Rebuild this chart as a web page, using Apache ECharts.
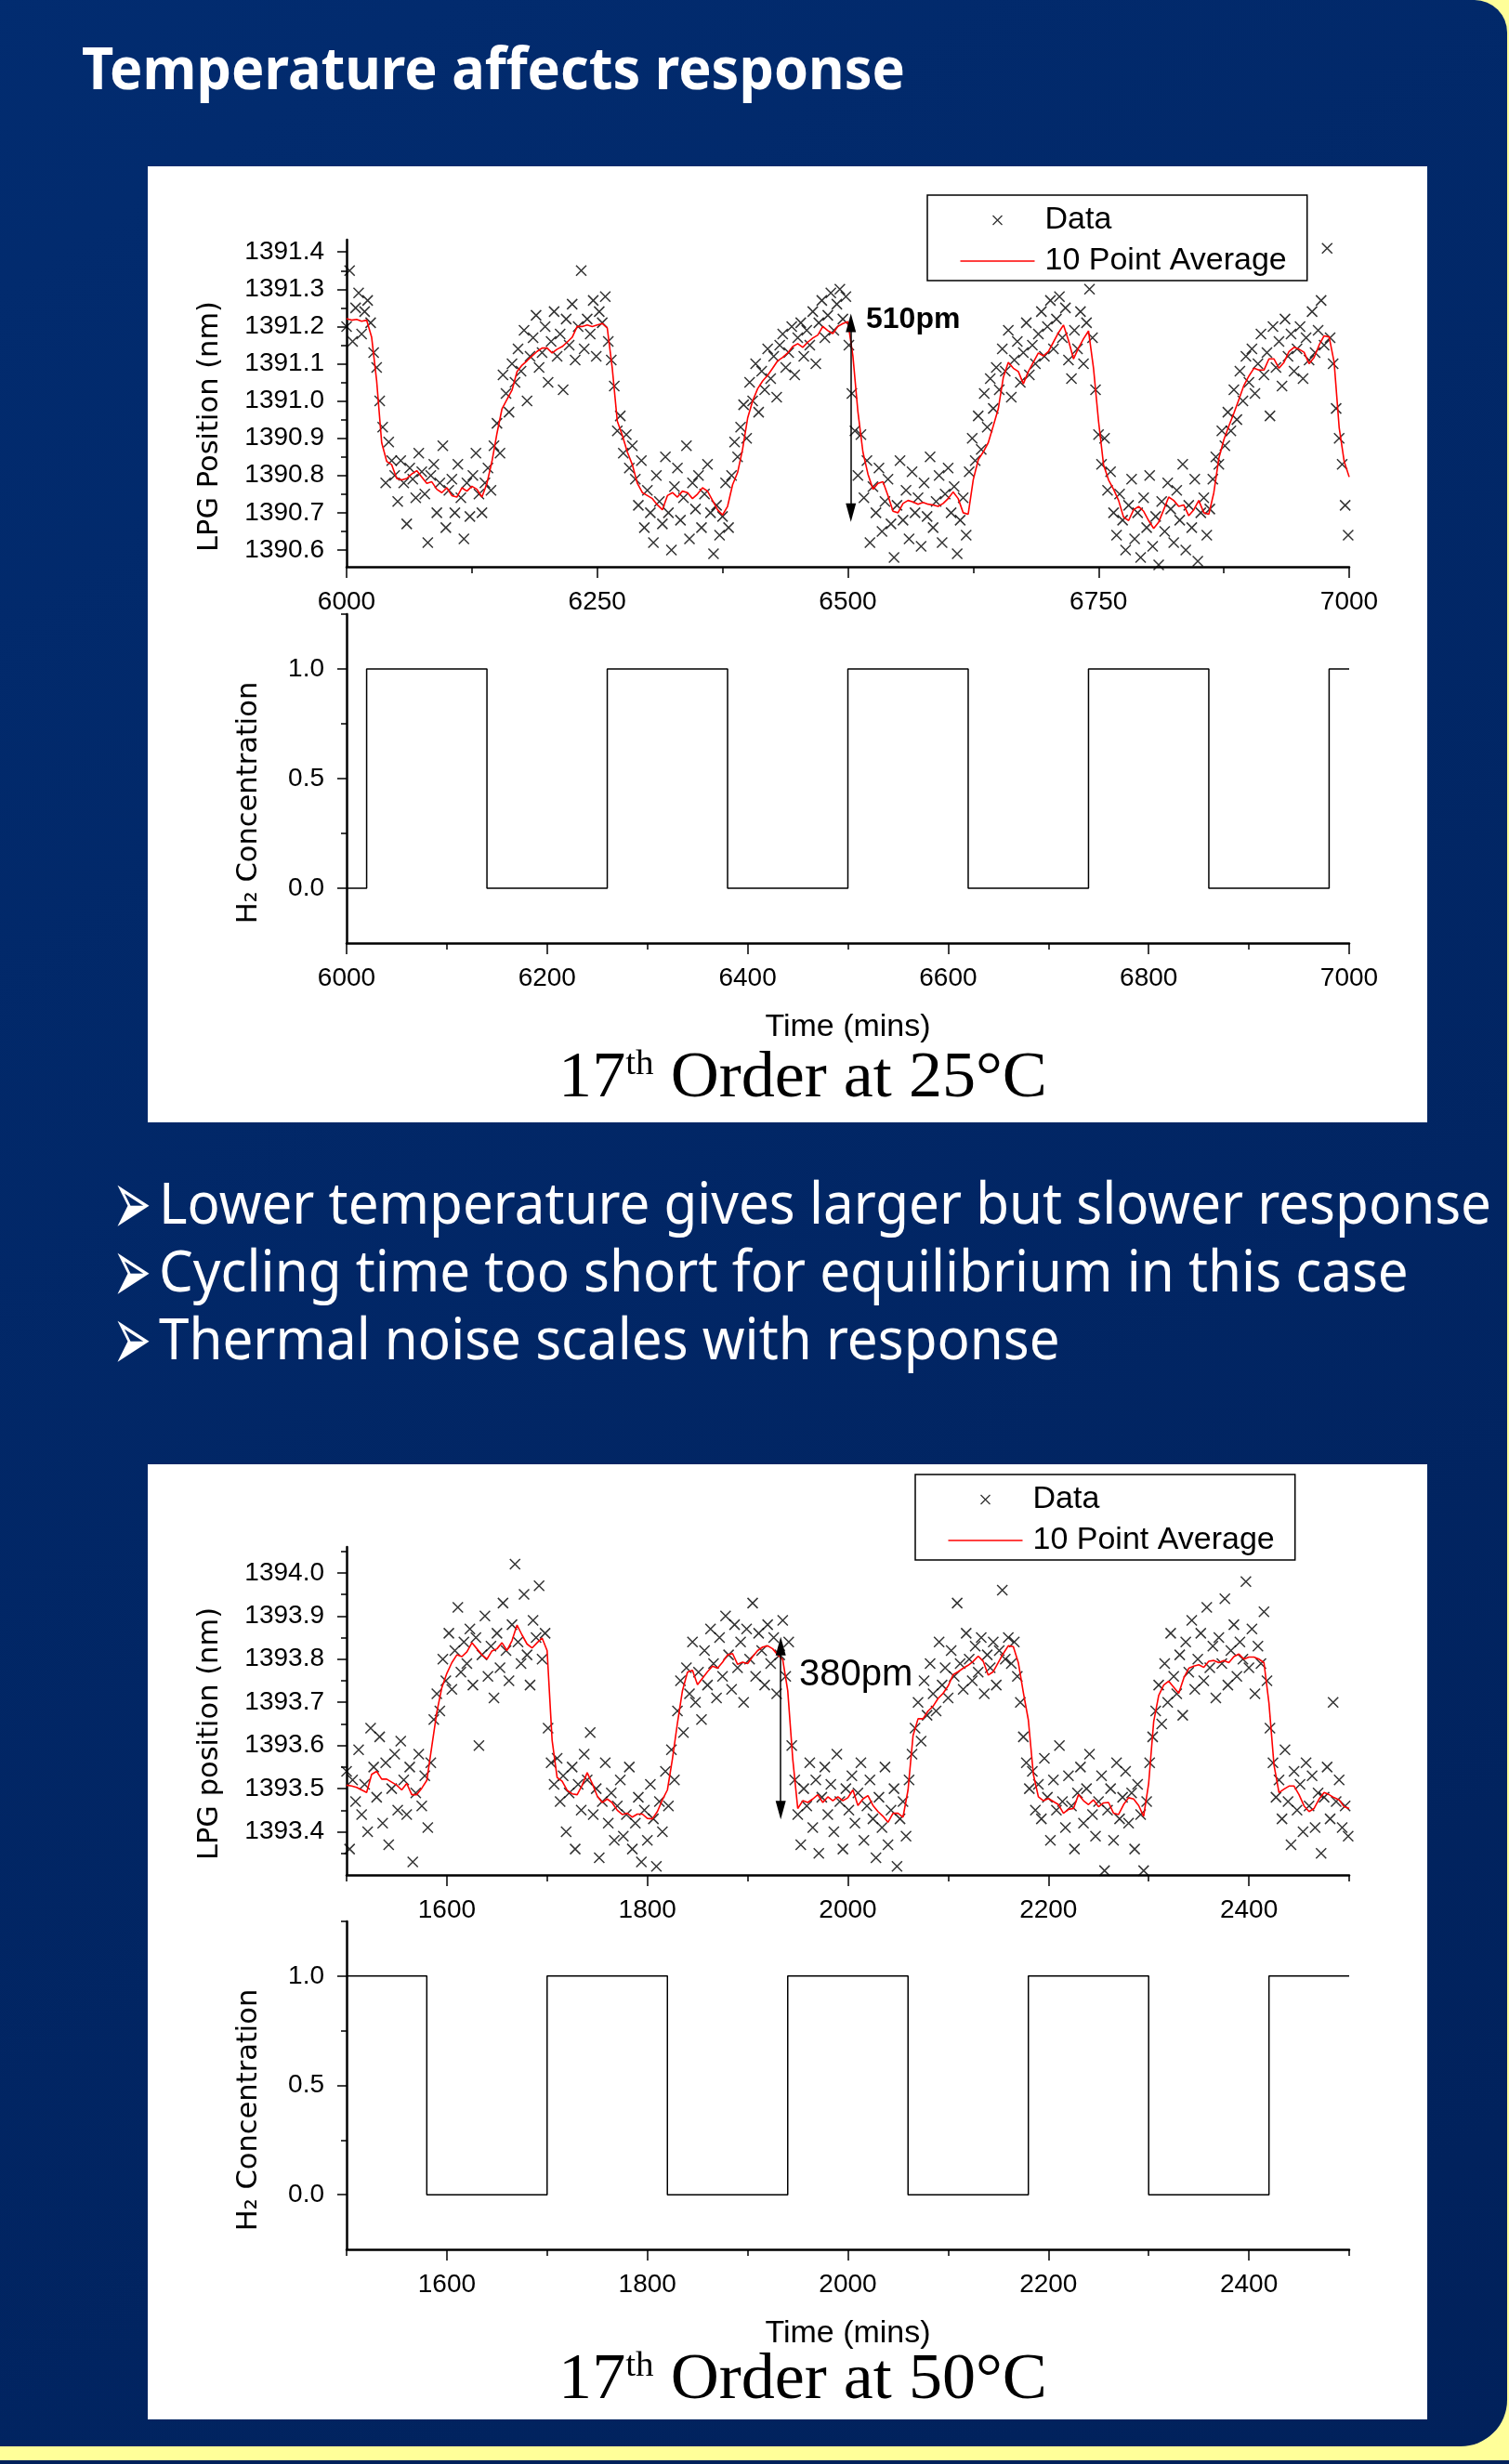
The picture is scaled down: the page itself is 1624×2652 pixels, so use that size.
<!DOCTYPE html>
<html>
<head>
<meta charset="utf-8">
<title>Temperature affects response</title>
<script src="https://cdn.jsdelivr.net/npm/echarts@6/dist/echarts.min.js"></script>
<style>
  html, body { margin: 0; padding: 0; background: #FFFF99; }
  #slide { width: 1624px; height: 2652px; }
</style>
</head>
<body>
<div id="slide"></div>
<script>
// ---------- 17th order LPG at 25 °C ----------
const lpg25Start = 6000, lpg25Step = 3;           // minutes
const lpg25 = [
  1391.20,1391.35,1391.16,1391.25,1391.29,1391.18,1391.24,1391.27,1391.21,1391.13,
  1391.09,1391.00,1390.93,1390.78,1390.89,1390.84,1390.80,1390.73,1390.84,1390.78,
  1390.67,1390.82,1390.79,1390.74,1390.86,1390.81,1390.75,1390.62,1390.80,1390.83,
  1390.70,1390.78,1390.88,1390.66,1390.76,1390.79,1390.70,1390.83,1390.74,1390.63,
  1390.78,1390.69,1390.80,1390.86,1390.75,1390.70,1390.78,1390.82,1390.76,1390.88,
  1390.94,1390.86,1391.07,1391.02,1390.97,1391.10,1391.05,1391.14,1391.08,1391.19,
  1391.00,1391.12,1391.17,1391.23,1391.09,1391.13,1391.20,1391.05,1391.16,1391.24,
  1391.12,1391.18,1391.03,1391.22,1391.15,1391.26,1391.11,1391.20,1391.35,1391.14,
  1391.22,1391.18,1391.27,1391.12,1391.24,1391.21,1391.28,1391.16,1391.11,1391.04,
  1390.92,1390.96,1390.86,1390.91,1390.82,1390.88,1390.79,1390.72,1390.84,1390.66,
  1390.76,1390.70,1390.62,1390.80,1390.73,1390.67,1390.85,1390.70,1390.60,1390.77,
  1390.82,1390.68,1390.74,1390.88,1390.63,1390.78,1390.71,1390.80,1390.66,1390.75,
  1390.83,1390.70,1390.59,1390.72,1390.64,1390.69,1390.78,1390.66,1390.80,1390.89,
  1390.85,1390.93,1390.99,1390.90,1391.05,1391.00,1391.10,1390.97,1391.08,1391.03,
  1391.14,1391.06,1391.12,1391.01,1391.15,1391.18,1391.09,1391.13,1391.20,1391.07,
  1391.17,1391.21,1391.12,1391.19,1391.15,1391.24,1391.10,1391.21,1391.27,1391.17,
  1391.23,1391.29,1391.19,1391.26,1391.30,1391.22,1391.28,1391.15,1391.02,1390.92,
  1390.80,1390.91,1390.74,1390.84,1390.62,1390.77,1390.70,1390.82,1390.65,1390.73,
  1390.79,1390.67,1390.58,1390.72,1390.84,1390.68,1390.76,1390.63,1390.81,1390.70,
  1390.74,1390.61,1390.78,1390.69,1390.85,1390.66,1390.73,1390.80,1390.62,1390.75,
  1390.82,1390.70,1390.77,1390.59,1390.68,1390.74,1390.64,1390.81,1390.90,1390.84,
  1390.96,1390.87,1391.02,1390.93,1391.06,1390.98,1391.09,1391.03,1391.14,1391.08,
  1391.19,1391.01,1391.11,1391.16,1391.05,1391.13,1391.21,1391.07,1391.15,1391.10,
  1391.18,1391.24,1391.12,1391.20,1391.27,1391.14,1391.22,1391.28,1391.17,1391.25,
  1391.11,1391.06,1391.19,1391.14,1391.24,1391.10,1391.21,1391.30,1391.17,1391.03,
  1390.91,1390.83,1390.90,1390.76,1390.81,1390.70,1390.64,1390.75,1390.68,1390.60,
  1390.72,1390.79,1390.63,1390.70,1390.58,1390.74,1390.66,1390.80,1390.61,1390.69,
  1390.56,1390.73,1390.65,1390.78,1390.71,1390.62,1390.76,1390.68,1390.83,1390.60,
  1390.72,1390.66,1390.79,1390.57,1390.70,1390.74,1390.64,1390.71,1390.79,1390.85,
  1390.83,1390.92,1390.88,1390.97,1390.92,1391.03,1390.95,1391.08,1391.00,1391.12,
  1391.05,1391.14,1391.02,1391.10,1391.18,1391.07,1391.13,1390.96,1391.20,1391.09,
  1391.16,1391.04,1391.22,1391.12,1391.18,1391.08,1391.14,1391.20,1391.06,1391.17,
  1391.11,1391.24,1391.13,1391.19,1391.27,1391.15,1391.41,1391.17,1391.10,1390.98,
  1390.90,1390.83,1390.72,1390.64
];
const avg25Start = 6000, avg25Step = 5;
const avg25 = [
  1391.221,1391.217,1391.219,1391.214,1391.217,1391.171,1391.054,1390.888,1390.838,1390.829,
  1390.792,1390.788,1390.792,1390.804,1390.813,1390.796,1390.779,1390.783,1390.763,1390.754,
  1390.767,1390.746,1390.742,1390.767,1390.758,1390.771,1390.763,1390.742,1390.779,1390.838,
  1390.913,1390.979,1391.004,1391.029,1391.079,1391.096,1391.108,1391.121,1391.133,1391.142,
  1391.142,1391.129,1391.139,1391.146,1391.158,1391.171,1391.200,1391.200,1391.204,1391.200,
  1391.204,1391.208,1391.196,1391.088,1390.946,1390.908,1390.863,1390.829,1390.779,1390.754,
  1390.746,1390.738,1390.721,1390.708,1390.746,1390.754,1390.742,1390.758,1390.754,1390.738,
  1390.750,1390.767,1390.758,1390.733,1390.708,1390.694,1390.717,1390.775,1390.808,1390.871,
  1390.954,1391.000,1391.033,1391.054,1391.069,1391.088,1391.108,1391.117,1391.129,1391.146,
  1391.154,1391.144,1391.158,1391.169,1391.177,1391.200,1391.189,1391.181,1391.200,1391.208,
  1391.213,1391.121,1390.971,1390.863,1390.804,1390.763,1390.779,1390.783,1390.746,1390.704,
  1390.700,1390.725,1390.733,1390.729,1390.723,1390.728,1390.723,1390.721,1390.717,1390.725,
  1390.738,1390.756,1390.738,1390.700,1390.696,1390.788,1390.842,1390.863,1390.888,1390.933,
  1390.979,1391.063,1391.104,1391.088,1391.079,1391.046,1391.079,1391.104,1391.129,1391.121,
  1391.133,1391.158,1391.183,1391.204,1391.163,1391.113,1391.142,1391.167,1391.188,1391.088,
  1390.946,1390.829,1390.788,1390.763,1390.733,1390.688,1390.679,1390.708,1390.717,1390.704,
  1390.679,1390.658,1390.675,1390.708,1390.742,1390.733,1390.717,1390.721,1390.692,1390.708,
  1390.733,1390.700,1390.696,1390.754,1390.846,1390.896,1390.933,1390.967,1391.004,1391.042,
  1391.067,1391.088,1391.083,1391.083,1391.113,1391.113,1391.088,1391.104,1391.133,1391.144,
  1391.139,1391.131,1391.100,1391.117,1391.150,1391.175,1391.172,1391.104,1390.929,1390.838,
  1390.796
];
// H2 switching schedule (time, concentration after the switch)
const h2Time25  = [6000, 6020, 6140, 6260, 6380, 6500, 6620, 6740, 6860, 6980, 7000];
const h2Level25 = [0,    1,    0,    1,    0,    1,    0,    1,    0,    1,    1];
const shift25 = { time: 6503, top: 1391.21, bottom: 1390.70, label: '510pm' };

// ---------- 17th order LPG at 50 °C ----------
const lpg50Start = 1500, lpg50Step = 3;
const lpg50 = [
  1393.54,1393.36,1393.52,1393.47,1393.59,1393.44,1393.51,1393.40,1393.64,1393.55,
  1393.48,1393.62,1393.42,1393.56,1393.37,1393.50,1393.58,1393.45,1393.61,1393.52,
  1393.44,1393.55,1393.33,1393.49,1393.58,1393.46,1393.53,1393.41,1393.56,1393.66,
  1393.72,1393.68,1393.80,1393.75,1393.86,1393.73,1393.82,1393.92,1393.77,1393.84,
  1393.79,1393.87,1393.74,1393.85,1393.60,1393.81,1393.90,1393.76,1393.83,1393.71,
  1393.86,1393.78,1393.93,1393.82,1393.75,1393.88,1394.02,1393.84,1393.79,1393.95,
  1393.81,1393.74,1393.89,1393.85,1393.97,1393.80,1393.86,1393.64,1393.56,1393.51,
  1393.57,1393.47,1393.53,1393.40,1393.49,1393.55,1393.36,1393.51,1393.45,1393.58,
  1393.52,1393.63,1393.44,1393.50,1393.34,1393.47,1393.56,1393.42,1393.49,1393.38,
  1393.46,1393.52,1393.39,1393.44,1393.55,1393.36,1393.42,1393.48,1393.33,1393.45,
  1393.38,1393.51,1393.43,1393.32,1393.47,1393.40,1393.54,1393.46,1393.59,1393.52,
  1393.68,1393.75,1393.63,1393.78,1393.72,1393.84,1393.70,1393.77,1393.66,1393.82,
  1393.74,1393.87,1393.79,1393.71,1393.85,1393.76,1393.90,1393.81,1393.73,1393.88,
  1393.78,1393.84,1393.70,1393.87,1393.80,1393.93,1393.76,1393.86,1393.82,1393.74,
  1393.88,1393.79,1393.85,1393.72,1393.81,1393.89,1393.76,1393.84,1393.60,1393.52,
  1393.44,1393.37,1393.50,1393.46,1393.56,1393.41,1393.52,1393.35,1393.48,1393.55,
  1393.44,1393.51,1393.40,1393.58,1393.47,1393.36,1393.50,1393.45,1393.53,1393.42,
  1393.49,1393.56,1393.38,1393.46,1393.52,1393.43,1393.34,1393.48,1393.41,1393.55,
  1393.37,1393.45,1393.50,1393.32,1393.43,1393.47,1393.39,1393.52,1393.58,1393.64,
  1393.70,1393.61,1393.75,1393.67,1393.79,1393.72,1393.68,1393.84,1393.74,1393.78,
  1393.71,1393.82,1393.76,1393.93,1393.79,1393.73,1393.86,1393.80,1393.75,1393.83,
  1393.77,1393.85,1393.72,1393.81,1393.78,1393.84,1393.74,1393.82,1393.96,1393.80,
  1393.85,1393.79,1393.84,1393.76,1393.70,1393.62,1393.56,1393.50,1393.54,1393.45,
  1393.51,1393.43,1393.57,1393.48,1393.38,1393.52,1393.45,1393.60,1393.47,1393.41,
  1393.53,1393.46,1393.36,1393.49,1393.55,1393.42,1393.50,1393.58,1393.44,1393.39,
  1393.47,1393.53,1393.31,1393.45,1393.50,1393.38,1393.56,1393.43,1393.48,1393.54,
  1393.42,1393.49,1393.36,1393.51,1393.44,1393.31,1393.47,1393.56,1393.62,1393.68,
  1393.74,1393.65,1393.79,1393.70,1393.86,1393.76,1393.72,1393.81,1393.67,1393.84,
  1393.77,1393.89,1393.73,1393.80,1393.86,1393.75,1393.92,1393.78,1393.83,1393.71,
  1393.85,1393.79,1393.94,1393.74,1393.82,1393.88,1393.76,1393.84,1393.80,1393.98,
  1393.78,1393.87,1393.72,1393.83,1393.79,1393.91,1393.75,1393.64,1393.56,1393.48,
  1393.52,1393.43,1393.59,1393.47,1393.37,1393.54,1393.45,1393.51,1393.40,1393.56,
  1393.46,1393.53,1393.41,1393.49,1393.35,1393.48,1393.55,1393.43,1393.70,1393.47,
  1393.52,1393.41,1393.46,1393.39
];
const avg50Start = 1500, avg50Step = 5;
const avg50 = [
  1393.508,1393.506,1393.503,1393.497,1393.491,1393.533,1393.540,1393.522,1393.522,1393.515,
  1393.508,1393.497,1393.512,1393.486,1393.486,1393.501,1393.519,1393.598,1393.677,1393.734,
  1393.767,1393.792,1393.810,1393.806,1393.817,1393.838,1393.824,1393.810,1393.800,1393.819,
  1393.824,1393.838,1393.820,1393.843,1393.879,1393.856,1393.835,1393.826,1393.838,1393.849,
  1393.820,1393.612,1393.526,1393.517,1393.496,1393.488,1393.486,1393.508,1393.537,1393.512,
  1393.483,1393.468,1393.476,1393.467,1393.450,1393.440,1393.443,1393.434,1393.441,1393.441,
  1393.431,1393.430,1393.447,1393.474,1393.497,1393.569,1393.652,1393.727,1393.770,1393.774,
  1393.741,1393.756,1393.771,1393.784,1393.779,1393.793,1393.810,1393.813,1393.788,1393.793,
  1393.790,1393.806,1393.820,1393.828,1393.831,1393.824,1393.810,1393.799,1393.727,1393.569,
  1393.454,1393.472,1393.468,1393.476,1393.486,1393.468,1393.481,1393.472,1393.481,1393.472,
  1393.479,1393.497,1393.461,1393.476,1393.484,1393.461,1393.447,1393.436,1393.422,1393.443,
  1393.443,1393.434,1393.497,1393.623,1393.662,1393.662,1393.680,1393.691,1393.709,1393.721,
  1393.738,1393.764,1393.771,1393.779,1393.786,1393.795,1393.807,1393.795,1393.763,1393.771,
  1393.792,1393.813,1393.831,1393.829,1393.792,1393.723,1393.659,1393.533,1393.481,1393.472,
  1393.477,1393.470,1393.463,1393.443,1393.452,1393.454,1393.486,1393.472,1393.463,1393.474,
  1393.458,1393.467,1393.468,1393.443,1393.440,1393.463,1393.479,1393.476,1393.461,1393.436,
  1393.512,1393.655,1393.716,1393.740,1393.749,1393.735,1393.721,1393.756,1393.779,1393.784,
  1393.787,1393.781,1393.795,1393.797,1393.792,1393.797,1393.792,1393.806,1393.812,1393.800,
  1393.805,1393.805,1393.800,1393.792,1393.698,1393.555,1393.491,1393.499,1393.506,1393.506,
  1393.486,1393.460,1393.447,1393.454,1393.476,1393.491,1393.486,1393.479,1393.474,1393.458,
  1393.454
];
const h2Time50  = [1500, 1580, 1700, 1820, 1940, 2060, 2180, 2300, 2420, 2500];
const h2Level50 = [1,    0,    1,    0,    1,    0,    1,    0,    1,    1];
const shift50 = { time: 1933, top: 1393.83, bottom: 1393.45, label: '380pm' };

// ---------- tick values ----------
const timeLabels25Top    = [6000, 6250, 6500, 6750, 7000];
const timeMinor25Top     = [6125, 6375, 6625, 6875];
const timeLabels25Bottom = [6000, 6200, 6400, 6600, 6800, 7000];
const timeMinor25Bottom  = [6100, 6300, 6500, 6700, 6900];
const lpgLabels25 = [1390.6, 1390.7, 1390.8, 1390.9, 1391.0, 1391.1, 1391.2, 1391.3, 1391.4];
const lpgMinor25  = [1390.65, 1390.75, 1390.85, 1390.95, 1391.05, 1391.15, 1391.25, 1391.35];
const timeLabels50 = [1600, 1800, 2000, 2200, 2400];
const timeMinor50  = [1500, 1700, 1900, 2100, 2300, 2500];
const lpgLabels50 = [1393.4, 1393.5, 1393.6, 1393.7, 1393.8, 1393.9, 1394.0];
const lpgMinor50  = [1393.35, 1393.45, 1393.55, 1393.65, 1393.75, 1393.85, 1393.95, 1394.05];
const h2Labels = [0, 0.5, 1.0];
const h2Minor  = [0.25, 0.75, 1.25];

// ---------- slide text ----------
const slideTitle = 'Temperature affects response';
const bullets = [
  'Lower temperature gives larger but slower response',
  'Cycling time too short for equilibrium in this case',
  'Thermal noise scales with response'
];

// ---------- helpers ----------
const pairs = (start, step, vals) => vals.map((v, i) => [start + i * step, v]);
const zip = (xs, ys) => xs.map((x, i) => [x, ys[i]]);

const SANS = '"Liberation Sans", Arial, sans-serif';
const WIDE = '"DejaVu Sans", sans-serif';
const SERIF = '"Liberation Serif", "Times New Roman", serif';
const SLIDE = '"Noto Sans", "Open Sans", sans-serif';

function measure(text, font) {
  const ctx = document.createElement('canvas').getContext('2d');
  ctx.font = font;
  return ctx.measureText(text).width;
}

const grids = [
  { left: 373, top: 258,  width: 1079, height: 352 },
  { left: 373, top: 661,  width: 1079, height: 354 },
  { left: 373, top: 1665, width: 1079, height: 353 },
  { left: 373, top: 2068, width: 1079, height: 353 }
];

const tickStyle = { color: '#000', width: 1.5 };
const labelStyle = { color: '#000', fontFamily: SANS, fontSize: 28 };

function xMain(gridIndex, min, max, labels, name) {
  return {
    type: 'value', gridIndex, min, max, position: 'bottom',
    axisLine: { show: true, onZero: false, lineStyle: { color: '#000', width: 2.5 } },
    axisTick: { show: true, customValues: labels, length: 12, lineStyle: tickStyle },
    axisLabel: Object.assign({ show: true, customValues: labels, margin: 24,
      formatter: v => String(Math.round(v)) }, labelStyle),
    splitLine: { show: false },
    name: name || '', nameLocation: 'middle', nameGap: 74,
    nameTextStyle: { color: '#000', fontFamily: SANS, fontSize: 34 }
  };
}
function yMain(gridIndex, min, max, labels) {
  return {
    type: 'value', gridIndex, min, max, position: 'left',
    axisLine: { show: true, onZero: false, lineStyle: { color: '#000', width: 2.5 } },
    axisTick: { show: true, customValues: labels, length: 10, lineStyle: tickStyle },
    axisLabel: Object.assign({ show: true, customValues: labels, margin: 24,
      formatter: v => v.toFixed(1) }, labelStyle),
    splitLine: { show: false }
  };
}
function xMinor(gridIndex, min, max, vals) {
  return {
    type: 'value', gridIndex, min, max, position: 'bottom',
    axisLine: { show: false, onZero: false },
    axisTick: { show: true, customValues: vals, length: 7, lineStyle: tickStyle },
    axisLabel: { show: false }, splitLine: { show: false }
  };
}
function yMinor(gridIndex, min, max, vals) {
  return {
    type: 'value', gridIndex, min, max, position: 'left',
    axisLine: { show: false, onZero: false },
    axisTick: { show: true, customValues: vals, length: 6, lineStyle: tickStyle },
    axisLabel: { show: false }, splitLine: { show: false }
  };
}

const crossSymbol = 'path://M0,0L10,10M10,0L0,10';
// legend glyphs drawn inside an 80 x 14 slot
const legendCross = 'path://M0,0M80,14M35,2L45,12M45,2L35,12';
const legendDash = 'path://M0,0M80,14M0,7L80,7';

function dataSeries(xi, start, step, vals) {
  return {
    name: 'Data', type: 'scatter', xAxisIndex: xi, yAxisIndex: xi,
    data: pairs(start, step, vals),
    symbol: crossSymbol, symbolSize: 11,
    itemStyle: { color: '#000', borderColor: '#000', borderWidth: 1.5 },
    z: 2, silent: true
  };
}
function avgSeries(xi, start, step, vals, shift) {
  return {
    name: '10 Point Average', type: 'line', xAxisIndex: xi, yAxisIndex: xi,
    data: pairs(start, step, vals), symbol: 'none', showSymbol: false,
    lineStyle: { color: '#FF0000', width: 1.6 }, itemStyle: { color: '#FF0000' },
    z: 3, silent: true,
    markLine: {
      silent: true, symbol: ['triangle', 'triangle'], symbolSize: [11, 20],
      lineStyle: { color: '#000', width: 1.5, type: 'solid' },
      label: { show: false }, emphasis: { disabled: true },
      data: [[{ coord: [shift.time, shift.top] }, { coord: [shift.time, shift.bottom] }]]
    }
  };
}
function h2Series(xi, times, levels) {
  return {
    name: 'H2', type: 'line', step: 'end', xAxisIndex: xi, yAxisIndex: xi,
    data: zip(times, levels), symbol: 'none',
    lineStyle: { color: '#000', width: 1.5 }, z: 3, silent: true
  };
}
function legendAt(left, top) {
  return {
    left, top, orient: 'vertical', selectedMode: false,
    data: [
      { name: 'Data', icon: legendCross,
        itemStyle: { color: 'none', borderColor: '#000', borderWidth: 1.3 } },
      { name: '10 Point Average', icon: legendDash,
        itemStyle: { color: 'none', borderColor: '#FF0000', borderWidth: 1.6 } }
    ],
    itemWidth: 80, itemHeight: 14, itemGap: 6,
    padding: [8, 22, 2, 33],
    backgroundColor: '#fff', borderColor: '#000', borderWidth: 1.5, borderRadius: 0,
    textStyle: { color: '#000', fontFamily: SANS, fontSize: 34, lineHeight: 38, padding: [0, 0, 0, 6] }
  };
}

// ---------- slide decoration and texts ----------
const navy = new echarts.graphic.LinearGradient(0, 0, 1, 1, [
  { offset: 0, color: '#022C70' }, { offset: 1, color: '#01215B' }
]);

const titleFont = 'bold 62px "Noto Sans"';
const titleScale = 886 / measure(slideTitle, titleFont);
const bulletFont = '62px "Noto Sans"';
const bulletScale = 1434 / measure(bullets[0], bulletFont);

function orderTitle(y, temp) {
  return {
    type: 'text', z: 20, x: 864, y, scaleX: 1.03,
    style: {
      text: '{n|17}{s|th}{n| Order at ' + temp + '}',
      align: 'center', verticalAlign: 'middle', textAlign: 'center', textVerticalAlign: 'middle',
      rich: {
        n: { fontFamily: SERIF, fontSize: 70, lineHeight: 70, color: '#000' },
        s: { fontFamily: SERIF, fontSize: 38, lineHeight: 44, verticalAlign: 'top', color: '#000' }
      }
    }
  };
}
function axisTitle(x, y, text) {
  return {
    type: 'text', z: 20, x, y, rotation: Math.PI / 2,
    style: { text, fill: '#000', fontFamily: WIDE, fontSize: 30.5,
      align: 'center', verticalAlign: 'middle', textAlign: 'center', textVerticalAlign: 'middle' }
  };
}
function freeText(x, y, text, size, weight) {
  return {
    type: 'text', z: 20, x, y,
    style: { text, fill: '#000', fontFamily: SANS, fontSize: size, fontWeight: weight || 'normal',
      align: 'left', verticalAlign: 'middle', textAlign: 'left', textVerticalAlign: 'middle' }
  };
}

const graphics = [
  { type: 'rect', z: -100, silent: true, shape: { x: -60, y: 0, width: 1682, height: 2633, r: [0, 35, 50, 0] }, style: { fill: navy } },
  { type: 'rect', z: -100, silent: true, shape: { x: 0, y: 2648, width: 1624, height: 4 }, style: { fill: '#01215B' } },
  { type: 'rect', z: -90, silent: true, shape: { x: 159, y: 179, width: 1377, height: 1029 }, style: { fill: '#FFFFFF' } },
  { type: 'rect', z: -90, silent: true, shape: { x: 159, y: 1576, width: 1377, height: 1028 }, style: { fill: '#FFFFFF' } },
  {
    type: 'text', z: 20, x: 88, y: 78, scaleX: titleScale,
    style: { text: slideTitle, fill: '#FFFFFF', fontFamily: SLIDE, fontSize: 62, fontWeight: 'bold',
      align: 'left', verticalAlign: 'middle', textAlign: 'left', textVerticalAlign: 'middle' }
  },
  axisTitle(226, 459, 'LPG Position (nm)'),
  axisTitle(268, 864, 'H\u2082 Concentration'),
  axisTitle(226, 1866, 'LPG position (nm)'),
  axisTitle(268, 2271, 'H\u2082 Concentration'),
  freeText(932, 344, shift25.label, 32, 'bold'),
  freeText(860, 1803, shift50.label, 40),
  orderTitle(1162, '25\u00B0C'),
  orderTitle(2563, '50\u00B0C')
];
bullets.forEach((b, i) => {
  const y = 1299 + i * 73;
  graphics.push({
    type: 'text', z: 20, x: 121, y: y + 4, scaleX: 0.5,
    style: { text: '\u27A2', fill: '#FFFFFF', fontFamily: WIDE, fontSize: 100,
      align: 'left', verticalAlign: 'middle', textAlign: 'left', textVerticalAlign: 'middle' }
  });
  graphics.push({
    type: 'text', z: 20, x: 171, y, scaleX: bulletScale,
    style: { text: b, fill: '#FFFFFF', fontFamily: SLIDE, fontSize: 62,
      align: 'left', verticalAlign: 'middle', textAlign: 'left', textVerticalAlign: 'middle' }
  });
});

const chart = echarts.init(document.getElementById('slide'), null, { renderer: 'canvas', width: 1624, height: 2652 });
chart.setOption({
  animation: false,
  backgroundColor: '#FFFF99',
  grid: grids.concat(grids).map(g => Object.assign({ containLabel: false, outerBoundsMode: 'none' }, g)),
  legend: [legendAt(998, 210), legendAt(985, 1587)],
  xAxis: [
    xMain(0, 6000, 7000, timeLabels25Top),
    xMain(1, 6000, 7000, timeLabels25Bottom, 'Time (mins)'),
    xMain(2, 1500, 2500, timeLabels50),
    xMain(3, 1500, 2500, timeLabels50, 'Time (mins)'),
    xMinor(4, 6000, 7000, timeMinor25Top),
    xMinor(5, 6000, 7000, timeMinor25Bottom),
    xMinor(6, 1500, 2500, timeMinor50),
    xMinor(7, 1500, 2500, timeMinor50)
  ],
  yAxis: [
    yMain(0, 1390.555, 1391.433, lpgLabels25),
    yMain(1, -0.25, 1.25, h2Labels),
    yMain(2, 1393.30, 1394.06, lpgLabels50),
    yMain(3, -0.25, 1.25, h2Labels),
    yMinor(4, 1390.555, 1391.433, lpgMinor25),
    yMinor(5, -0.25, 1.25, h2Minor),
    yMinor(6, 1393.30, 1394.06, lpgMinor50),
    yMinor(7, -0.25, 1.25, h2Minor)
  ],
  series: [
    dataSeries(0, lpg25Start, lpg25Step, lpg25),
    avgSeries(0, avg25Start, avg25Step, avg25, shift25),
    h2Series(1, h2Time25, h2Level25),
    dataSeries(2, lpg50Start, lpg50Step, lpg50),
    avgSeries(2, avg50Start, avg50Step, avg50, shift50),
    h2Series(3, h2Time50, h2Level50)
  ],
  graphic: graphics
});
</script>
</body>
</html>
